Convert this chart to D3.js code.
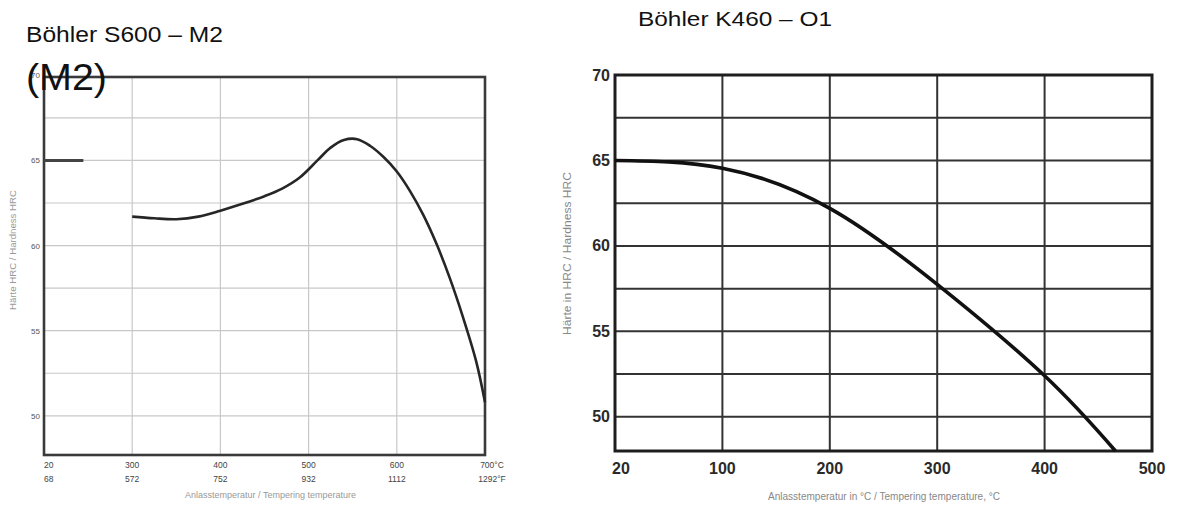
<!DOCTYPE html>
<html lang="de">
<head>
<meta charset="UTF-8">
<title>Böhler S600 / K460</title>
<script src="https://d3js.org/d3.v7.min.js"></script>
<style>
  body { margin: 0; background: #fff; }
  svg { display: block; }
  text { font-family: "Liberation Sans", Arial, sans-serif; }
</style>
</head>
<body>
<div id="figure"></div>
<script>
    // ---- S600 (M2), left chart ----
    const s600Ticks = [20, 300, 400, 500, 600, 700];          // °C, evenly spaced on the sheet
    const s600TicksF = ["68", "572", "752", "932", "1112", "1292°F"];
    const s600TicksC = ["20", "300", "400", "500", "600", "700°C"];
    const s600YTicks = [50, 55, 60, 65, 70];
    const s600Hardened = [[20, 65], [145, 65]];
    const s600Curve = [
        [300, 61.7], [325, 61.6], [350, 61.55], [375, 61.7], [400, 62.05],
        [425, 62.45], [450, 62.9], [470, 63.35], [490, 64.0], [510, 65.0],
        [525, 65.75], [540, 66.2], [555, 66.25], [570, 65.85], [585, 65.2],
        [600, 64.35], [615, 63.2], [630, 61.8], [645, 60.1], [660, 58.1],
        [675, 55.8], [690, 53.2], [700, 50.8]
    ];

    // ---- K460 (O1), right chart ----
    const k460Ticks = [20, 100, 200, 300, 400, 500];
    const k460YTicks = [50, 55, 60, 65, 70];
    const k460Curve = [
        [20, 65], [100, 64.55], [200, 62.2], [300, 57.75], [400, 52.4], [466, 48]
    ];

    const W = 1177, H = 506;
    const svg = d3.select("#figure").append("svg")
        .attr("width", W).attr("height", H);

    // even spacing between tick positions (the sheets use a broken scale)
    function pieceScale(ticks, x0, x1) {
        let step = (x1 - x0) / (ticks.length - 1);
        return d3.scaleLinear().domain(ticks).range(ticks.map((d, i) => x0 + i * step));
    }

    // ================= left =================
    let L = {x0: 44, x1: 485, y0: 77, y1: 455};
    let xL = pieceScale(s600Ticks, L.x0, L.x1);
    let yL = d3.scaleLinear().domain([47.7, 69.9]).range([L.y1, L.y0]);
    let gL = svg.append("g");

    // grid
    gL.selectAll(".hg").data(d3.range(50, 70, 2.5)).enter().append("line")
        .attr("x1", L.x0).attr("x2", L.x1)
        .attr("y1", d => yL(d)).attr("y2", d => yL(d))
        .style("stroke", "#c8c8c8").style("stroke-width", 1.2);
    gL.selectAll(".vg").data(s600Ticks.slice(1, -1)).enter().append("line")
        .attr("x1", d => xL(d)).attr("x2", d => xL(d))
        .attr("y1", L.y0).attr("y2", L.y1)
        .style("stroke", "#c8c8c8").style("stroke-width", 1.2);

    // frame
    gL.append("rect")
        .attr("x", L.x0).attr("y", L.y0)
        .attr("width", L.x1 - L.x0).attr("height", L.y1 - L.y0)
        .style("fill", "none").style("stroke", "#3a3a3a").style("stroke-width", 2.6);

    // y labels
    gL.selectAll(".yl").data(s600YTicks).enter().append("text")
        .attr("x", L.x0 - 4).attr("y", d => yL(d) + 3)
        .attr("text-anchor", "end")
        .style("font-size", "8px").style("fill", "#555")
        .text(d => d);

    // x labels, two rows
    let anchorFor = i => i === 0 ? "start" : "middle";
    gL.selectAll(".xc").data(s600Ticks).enter().append("text")
        .attr("x", (d, i) => xL(d) + (i === s600Ticks.length - 1 ? 7 : 0))
        .attr("y", 468)
        .attr("text-anchor", (d, i) => anchorFor(i))
        .style("font-size", "8.5px").style("fill", "#444")
        .text((d, i) => s600TicksC[i]);
    gL.selectAll(".xf").data(s600Ticks).enter().append("text")
        .attr("x", (d, i) => xL(d) + (i === s600Ticks.length - 1 ? 7 : 0))
        .attr("y", 482)
        .attr("text-anchor", (d, i) => anchorFor(i))
        .style("font-size", "8.5px").style("fill", "#444")
        .text((d, i) => s600TicksF[i]);

    gL.append("text")
        .attr("x", 185).attr("y", 498)
        .attr("textLength", 171).attr("lengthAdjust", "spacingAndGlyphs")
        .style("font-size", "9px").style("fill", "#999")
        .text("Anlasstemperatur / Tempering temperature");
    gL.append("text")
        .attr("transform", "translate(16,310) rotate(-90)")
        .attr("textLength", 120).attr("lengthAdjust", "spacingAndGlyphs")
        .style("font-size", "9px").style("fill", "#999")
        .text("Härte HRC / Hardness HRC");

    let lineL = d3.line().x(d => xL(d[0])).y(d => yL(d[1])).curve(d3.curveCatmullRom);
    gL.append("path").datum(s600Hardened).attr("d", lineL)
        .style("fill", "none").style("stroke", "#444").style("stroke-width", 3);
    gL.append("path").datum(s600Curve).attr("d", lineL)
        .style("fill", "none").style("stroke", "#262626").style("stroke-width", 2.6);

    // titles on top
    svg.append("text").attr("x", 26).attr("y", 42)
        .attr("textLength", 197).attr("lengthAdjust", "spacingAndGlyphs")
        .style("font-size", "22px").style("fill", "#111")
        .text("Böhler S600 – M2");
    svg.append("text").attr("x", 26).attr("y", 90)
        .attr("textLength", 81).attr("lengthAdjust", "spacingAndGlyphs")
        .style("font-size", "36px").style("fill", "#111")
        .text("(M2)");

    // ================= right =================
    let R = {x0: 615, x1: 1152, y0: 75, y1: 451};
    let xR = pieceScale(k460Ticks, R.x0, R.x1);
    let yR = d3.scaleLinear().domain([48, 70]).range([R.y1, R.y0]);
    let gR = svg.append("g");

    gR.selectAll(".hg").data(d3.range(50, 70, 2.5)).enter().append("line")
        .attr("x1", R.x0).attr("x2", R.x1)
        .attr("y1", d => yR(d)).attr("y2", d => yR(d))
        .style("stroke", "#333").style("stroke-width", 2);
    gR.selectAll(".vg").data(k460Ticks.slice(1, -1)).enter().append("line")
        .attr("x1", d => xR(d)).attr("x2", d => xR(d))
        .attr("y1", R.y0).attr("y2", R.y1)
        .style("stroke", "#333").style("stroke-width", 2);
    gR.append("rect")
        .attr("x", R.x0).attr("y", R.y0)
        .attr("width", R.x1 - R.x0).attr("height", R.y1 - R.y0)
        .style("fill", "none").style("stroke", "#1e1e1e").style("stroke-width", 3);

    gR.selectAll(".yl").data(k460YTicks).enter().append("text")
        .attr("x", R.x0 - 5).attr("y", d => yR(d) + 5.5)
        .attr("text-anchor", "end")
        .style("font-size", "16px").style("font-weight", "bold").style("fill", "#2a2a2a")
        .text(d => d);
    gR.selectAll(".xl").data(k460Ticks).enter().append("text")
        .attr("x", (d, i) => xR(d) + (i === 0 ? 6 : 0))
        .attr("y", 474)
        .attr("text-anchor", "middle")
        .style("font-size", "16px").style("font-weight", "bold").style("fill", "#2a2a2a")
        .text(d => d);

    gR.append("text")
        .attr("x", 768).attr("y", 500)
        .attr("textLength", 232).attr("lengthAdjust", "spacingAndGlyphs")
        .style("font-size", "10.5px").style("fill", "#888")
        .text("Anlasstemperatur in °C / Tempering temperature, °C");
    gR.append("text")
        .attr("transform", "translate(571,335) rotate(-90)")
        .attr("textLength", 163).attr("lengthAdjust", "spacingAndGlyphs")
        .style("font-size", "11px").style("fill", "#888")
        .text("Härte in HRC / Hardness HRC");

    let lineR = d3.line().x(d => xR(d[0])).y(d => yR(d[1])).curve(d3.curveNatural);
    gR.append("path").datum(k460Curve).attr("d", lineR)
        .style("fill", "none").style("stroke", "#111").style("stroke-width", 3.6);

    svg.append("text").attr("x", 638).attr("y", 26)
        .attr("textLength", 194).attr("lengthAdjust", "spacingAndGlyphs")
        .style("font-size", "21px").style("fill", "#111")
        .text("Böhler K460 – O1");
</script>
</body>
</html>
